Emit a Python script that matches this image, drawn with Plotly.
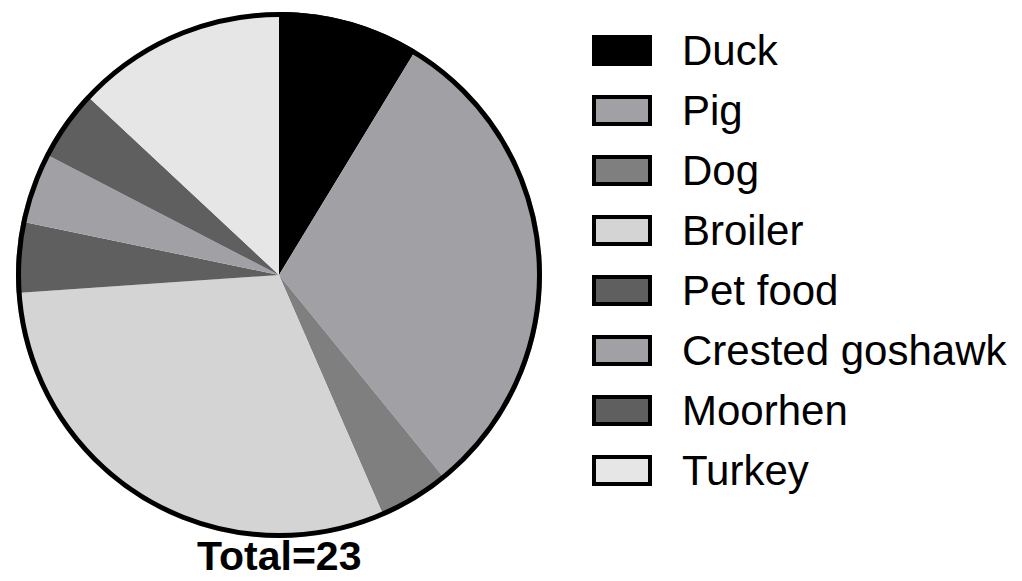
import plotly.graph_objects as go

# page offset (default body margin of the html page)
OFF = 8
W, H = 1022 - OFF, 581 - OFF

categories = ["Duck", "Pig", "Dog", "Broiler", "Pet food", "Crested goshawk", "Moorhen", "Turkey"]
counts = [2, 7, 1, 7, 1, 1, 1, 3]
colors = ["#000000", "#a1a1a5", "#7f7f7f", "#d4d4d4", "#5f5f5f", "#a1a1a5", "#5f5f5f", "#e6e6e6"]
total_label = "Total=" + str(sum(counts))

FONT = "Arial, Liberation Sans, sans-serif"

# pie geometry (page pixels)
cx, cy, r = 279, 275, 263
bw = 5


def px(x):
    return (x - OFF) / W


def py(y):
    return 1 - (y - OFF) / H


fig = go.Figure()
fig.add_trace(go.Pie(
    labels=categories,
    values=counts,
    sort=False,
    direction="clockwise",
    rotation=0,
    marker=dict(colors=colors, line=dict(width=0)),
    textinfo="none",
    hoverinfo="label+value",
    showlegend=False,
    domain=dict(x=[px(cx - r), px(cx + r)], y=[py(cy + r), py(cy - r)]),
))

rc = r - bw / 2
shapes = [dict(type="circle", xref="paper", yref="paper",
               x0=px(cx - rc), x1=px(cx + rc), y0=py(cy + rc), y1=py(cy - rc),
               line=dict(color="black", width=bw), fillcolor="rgba(0,0,0,0)")]
annotations = []
for i, (cat, col) in enumerate(zip(categories, colors)):
    yc = 50.5 + 60 * i
    shapes.append(dict(type="rect", xref="paper", yref="paper",
                       x0=px(594), x1=px(650), y0=py(yc + 13.5), y1=py(yc - 13.5),
                       line=dict(color="black", width=4), fillcolor=col))
    annotations.append(dict(text=cat, xref="paper", yref="paper",
                            x=px(680), y=py(yc), xanchor="left", yanchor="middle",
                            showarrow=False, font=dict(family=FONT, size=42, color="black")))

annotations.append(dict(text="<b>" + total_label + "</b>", xref="paper", yref="paper",
                        x=px(cx), y=py(581), xanchor="center", yanchor="bottom",
                        showarrow=False, font=dict(family=FONT, size=41, color="black")))

fig.update_layout(
    width=W, height=H,
    margin=dict(l=0, r=0, t=0, b=0),
    paper_bgcolor="white", plot_bgcolor="white",
    shapes=shapes, annotations=annotations,
)

fig.write_html("out.html")
